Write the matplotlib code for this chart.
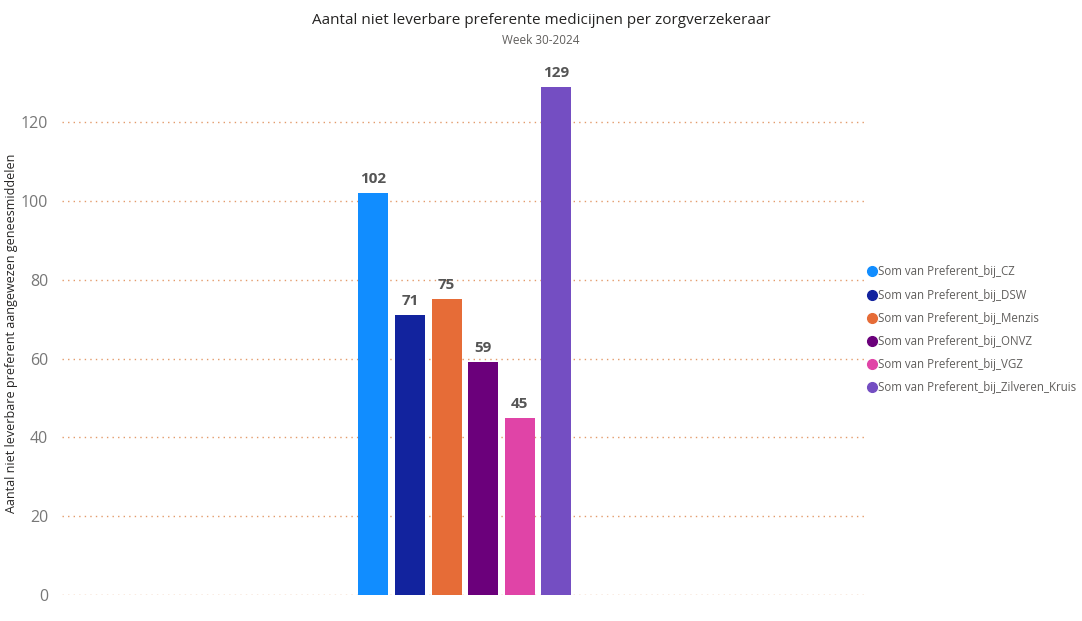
import matplotlib

matplotlib.use("Agg", force=True)
import matplotlib.pyplot as plt
from matplotlib.lines import Line2D

plt.rcParams["font.family"] = ["Open Sans", "DejaVu Sans"]

# data
series = [
    "Som van Preferent_bij_CZ",
    "Som van Preferent_bij_DSW",
    "Som van Preferent_bij_Menzis",
    "Som van Preferent_bij_ONVZ",
    "Som van Preferent_bij_VGZ",
    "Som van Preferent_bij_Zilveren_Kruis",
]
values = [102, 71, 75, 59, 45, 129]
colors = ["#118DFF", "#12239E", "#E66C37", "#6B007B", "#E044A7", "#744EC2"]
yticks = [0, 20, 40, 60, 80, 100, 120]

fig = plt.figure(figsize=(10.82, 6.21), dpi=100)
ax = fig.add_axes([0.0573, 0.0419, 0.7447, 0.844])

x = list(range(len(values)))
ax.bar(x, values, width=0.82, color=colors, zorder=3)
for xi, v in zip(x, values):
    ax.text(xi, v + 1.8, str(v), ha="center", va="bottom", fontsize=11,
            fontweight="bold", color="#555555")

ax.set_xlim(2.5 - 11, 2.5 + 11)
ax.set_ylim(0, 133)
ax.set_yticks(yticks)
ax.set_xticks([])
ax.tick_params(axis="y", length=0, pad=10, labelsize=11.5, labelcolor="#777777")
ax.grid(axis="y", linestyle=(0, (1, 3)), color="#E39A6A", linewidth=1, zorder=0)
for s in ax.spines.values():
    s.set_visible(False)

ax.set_ylabel("Aantal niet leverbare preferent aangewezen geneesmiddelen",
              fontsize=9, color="#252423")
ax.yaxis.set_label_coords(-0.0546, 0.5)

fig.text(0.5, 0.967, "Aantal niet leverbare preferente medicijnen per zorgverzekeraar",
         ha="center", va="center", fontsize=11, color="#252423")
fig.text(0.5, 0.935, "Week 30-2024", ha="center", va="center", fontsize=8.5,
         color="#605E5C")

handles = [Line2D([0], [0], marker="o", linestyle="", markersize=7,
                  markerfacecolor=c, markeredgecolor=c) for c in colors]
fig.legend(handles, series, loc="upper left", bbox_to_anchor=(0.797, 0.580),
           frameon=False, fontsize=8.3, handlelength=0.8, handletextpad=0.15,
           labelspacing=0.88, labelcolor="#605E5C", borderaxespad=0)

fig.savefig("out.png", dpi=100)
